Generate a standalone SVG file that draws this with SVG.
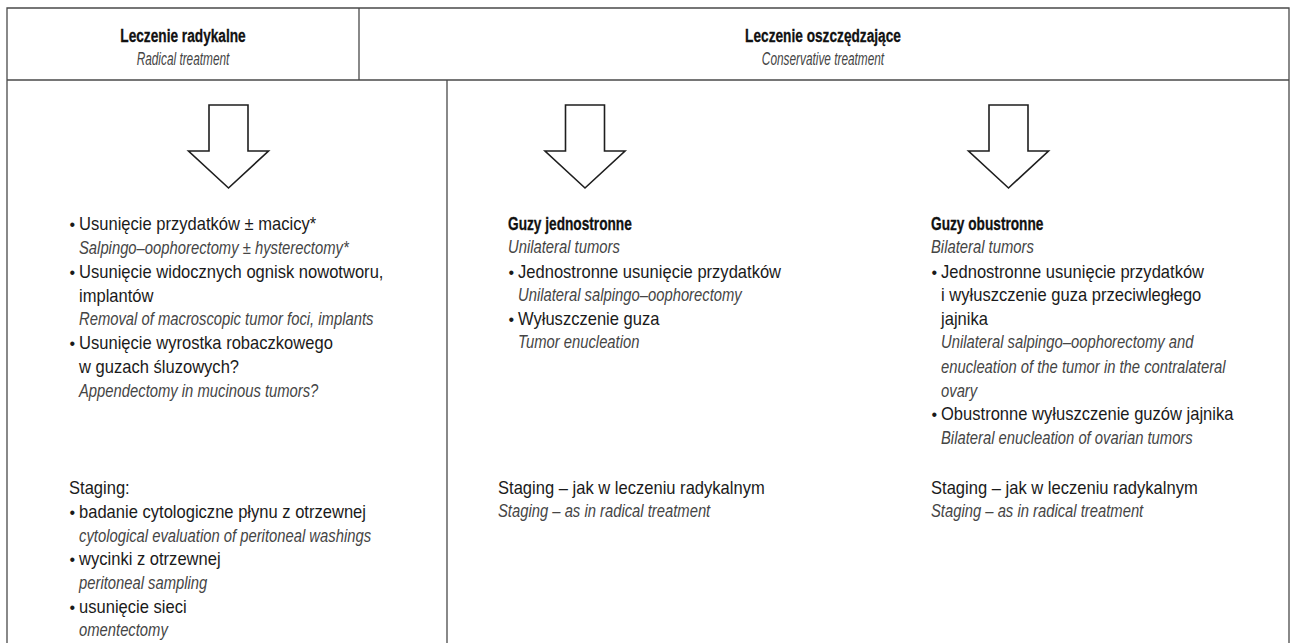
<svg xmlns="http://www.w3.org/2000/svg" width="1297" height="643" viewBox="0 0 1297 643">
<style>
.frame{fill:none;stroke:#4a4a4a;stroke-width:1.3}
.arrow{fill:#fff;stroke:#1e1e1e;stroke-width:1.6;stroke-linejoin:miter}
.r{font-family:'Liberation Sans',Arial,sans-serif;font-size:18px;fill:#1a1a1a}
.d{font-family:'Liberation Sans',Arial,sans-serif;font-size:16px;fill:#1a1a1a}
.i{font-family:'Liberation Sans',Arial,sans-serif;font-size:18.5px;font-style:italic;fill:#454545}
.b{font-family:'Liberation Sans',Arial,sans-serif;font-size:19px;font-weight:bold;fill:#111;stroke:#111;stroke-width:0.3}
.c{text-anchor:middle}
</style>
<defs>
<path id="arr" d="M-19.5,0 H19.5 V46 H40 L0,83 L-40,46 H-19.5 Z"/>
</defs>
<rect width="1297" height="643" fill="#fff"/>
<g id="table">
<path class="frame" d="M7,650 V8 H1289 V650 M7,80 H1289 M359,8 V80 M447,80 V650"/>
</g>
<g id="header-radical">
<text class="b c" transform="translate(183,42) scale(0.72,1)">Leczenie radykalne</text>
<text class="i c" transform="translate(183,65) scale(0.64,1)">Radical treatment</text>
</g>
<g id="header-conservative">
<text class="b c" transform="translate(823,42) scale(0.72,1)">Leczenie oszczędzające</text>
<text class="i c" transform="translate(823,65) scale(0.64,1)">Conservative treatment</text>
</g>
<g id="connectors">
<use href="#arr" class="arrow" x="228.5" y="105"/>
<use href="#arr" class="arrow" x="585" y="105"/>
<use href="#arr" class="arrow" x="1008.5" y="105"/>
</g>
<g id="radical">
<text class="d" x="69.5" y="230">•</text><text class="r" transform="translate(79,230) scale(0.92,1)">Usunięcie przydatków ± macicy*</text>
<text class="i" transform="translate(79,254) scale(0.8,1)">Salpingo–oophorectomy ± hysterectomy*</text>
<text class="d" x="69.5" y="278">•</text><text class="r" transform="translate(79,278) scale(0.92,1)">Usunięcie widocznych ognisk nowotworu,</text>
<text class="r" transform="translate(79,302) scale(0.92,1)">implantów</text>
<text class="i" transform="translate(79,325) scale(0.8,1)">Removal of macroscopic tumor foci, implants</text>
<text class="d" x="69.5" y="349">•</text><text class="r" transform="translate(79,349) scale(0.92,1)">Usunięcie wyrostka robaczkowego</text>
<text class="r" transform="translate(79,373) scale(0.92,1)">w guzach śluzowych?</text>
<text class="i" transform="translate(79,397) scale(0.8,1)">Appendectomy in mucinous tumors?</text>
<text class="r" transform="translate(69,494) scale(0.92,1)">Staging:</text>
<text class="d" x="69.5" y="518">•</text><text class="r" transform="translate(79,518) scale(0.92,1)">badanie cytologiczne płynu z otrzewnej</text>
<text class="i" transform="translate(79,542) scale(0.8,1)">cytological evaluation of peritoneal washings</text>
<text class="d" x="69.5" y="565">•</text><text class="r" transform="translate(79,565) scale(0.92,1)">wycinki z otrzewnej</text>
<text class="i" transform="translate(79,589) scale(0.8,1)">peritoneal sampling</text>
<text class="d" x="69.5" y="613">•</text><text class="r" transform="translate(79,613) scale(0.92,1)">usunięcie sieci</text>
<text class="i" transform="translate(79,636) scale(0.8,1)">omentectomy</text>
</g>
<g id="unilateral">
<text class="b" transform="translate(508,230) scale(0.72,1)">Guzy jednostronne</text>
<text class="i" transform="translate(508,253) scale(0.8,1)">Unilateral tumors</text>
<text class="d" x="508.5" y="278">•</text><text class="r" transform="translate(518,278) scale(0.92,1)">Jednostronne usunięcie przydatków</text>
<text class="i" transform="translate(518,301) scale(0.8,1)">Unilateral salpingo–oophorectomy</text>
<text class="d" x="508.5" y="325">•</text><text class="r" transform="translate(518,325) scale(0.92,1)">Wyłuszczenie guza</text>
<text class="i" transform="translate(518,348) scale(0.8,1)">Tumor enucleation</text>
<text class="r" transform="translate(498,494) scale(0.92,1)">Staging – jak w leczeniu radykalnym</text>
<text class="i" transform="translate(498,517) scale(0.8,1)">Staging – as in radical treatment</text>
</g>
<g id="bilateral">
<text class="b" transform="translate(931,230) scale(0.72,1)">Guzy obustronne</text>
<text class="i" transform="translate(931,253) scale(0.8,1)">Bilateral tumors</text>
<text class="d" x="931.5" y="278">•</text><text class="r" transform="translate(941,278) scale(0.92,1)">Jednostronne usunięcie przydatków</text>
<text class="r" transform="translate(941,301) scale(0.92,1)">i wyłuszczenie guza przeciwległego</text>
<text class="r" transform="translate(941,325) scale(0.92,1)">jajnika</text>
<text class="i" transform="translate(941,348) scale(0.8,1)">Unilateral salpingo–oophorectomy and</text>
<text class="i" transform="translate(941,373) scale(0.8,1)">enucleation of the tumor in the contralateral</text>
<text class="i" transform="translate(941,397) scale(0.8,1)">ovary</text>
<text class="d" x="931.5" y="420">•</text><text class="r" transform="translate(941,420) scale(0.92,1)">Obustronne wyłuszczenie guzów jajnika</text>
<text class="i" transform="translate(941,444) scale(0.8,1)">Bilateral enucleation of ovarian tumors</text>
<text class="r" transform="translate(931,494) scale(0.92,1)">Staging – jak w leczeniu radykalnym</text>
<text class="i" transform="translate(931,517) scale(0.8,1)">Staging – as in radical treatment</text>
</g>
</svg>
